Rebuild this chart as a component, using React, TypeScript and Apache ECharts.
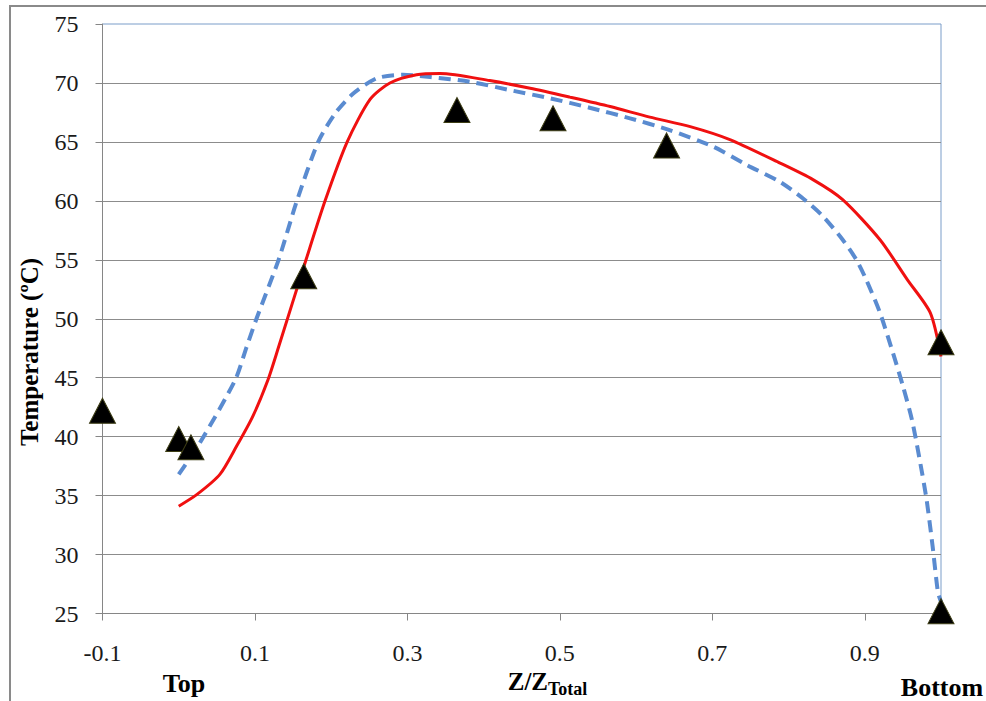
import React, { useEffect, useRef } from "react";
import * as echarts from "echarts";

// Simulation 1 (red solid) : [Z/Ztotal, temperature]
const redX = [0.0, 0.024, 0.054, 0.076, 0.097, 0.117, 0.131, 0.167, 0.192, 0.221, 0.251, 0.277, 0.312, 0.343, 0.408, 0.461, 0.513, 0.566, 0.618, 0.671, 0.723, 0.789, 0.832, 0.871, 0.92, 0.956, 0.986, 1.0];
const redY = [34.1, 35.1, 36.8, 39.2, 41.7, 44.8, 47.6, 55.0, 60.0, 65.0, 68.6, 70.0, 70.7, 70.8, 70.2, 69.55, 68.8, 68.0, 67.1, 66.3, 65.2, 63.2, 61.8, 60.1, 56.7, 53.3, 50.5, 46.8];

// Simulation 2 (blue dashed)
const blueX = [0.0, 0.028, 0.074, 0.089, 0.102, 0.131, 0.155, 0.183, 0.205, 0.229, 0.26, 0.294, 0.33, 0.382, 0.434, 0.487, 0.539, 0.592, 0.644, 0.701, 0.745, 0.789, 0.819, 0.845, 0.871, 0.889, 0.902, 0.92, 0.937, 0.95, 0.962, 0.972, 0.981, 0.989, 0.996, 1.0];
const blueY = [36.8, 39.5, 44.8, 47.6, 50.0, 55.0, 60.0, 65.0, 67.4, 69.1, 70.4, 70.7, 70.5, 70.1, 69.4, 68.7, 67.9, 67.0, 66.0, 64.6, 63.05, 61.6, 60.2, 58.7, 56.7, 55.0, 53.3, 50.5, 47.1, 44.3, 41.4, 38.05, 34.7, 30.7, 26.8, 26.0];

// Measured (black triangles)
const measX = [-0.1, 0.0, 0.016, 0.164, 0.365, 0.491, 0.64, 1.0, 1.0];
const measY = [42.2, 39.8, 39.1, 53.6, 67.7, 67.0, 64.7, 48.0, 25.2];

const xTickLabels = [-0.1, 0.1, 0.3, 0.5, 0.7, 0.9];
const yMin = 25;
const yMax = 75;
const yStep = 5;

const SERIF = "Liberation Serif";

export default function App() {
  const ref = useRef<HTMLDivElement>(null);

  useEffect(() => {
    if (!ref.current) return;
    const chart = echarts.init(ref.current, undefined, { renderer: "svg" });
    const zip = (xs: number[], ys: number[]) => xs.map((x, i) => [x, ys[i]]);

    chart.setOption({
      animation: false,
      backgroundColor: "#ffffff",
      grid: {
        left: 102.5,
        top: 24,
        right: 45,
        bottom: 87.5,
        show: true,
        borderColor: "#7b9dc9",
        borderWidth: 1,
        backgroundColor: "transparent",
      },
      xAxis: {
        type: "value",
        min: -0.1,
        max: 1.0,
        axisLine: { show: true, onZero: false, lineStyle: { color: "#868686", width: 1 } },
        axisTick: {
          show: true,
          inside: false,
          length: 7,
          customValues: xTickLabels,
          lineStyle: { color: "#868686" },
        },
        axisLabel: {
          customValues: xTickLabels,
          margin: 27,
          fontFamily: SERIF,
          fontSize: 24,
          color: "#1a1a1a",
          formatter: (v: number) => String(Number(v.toFixed(1))),
        },
        splitLine: { show: false },
      },
      yAxis: {
        type: "value",
        min: yMin,
        max: yMax,
        interval: yStep,
        axisLine: { show: true, onZero: false, lineStyle: { color: "#868686", width: 1 } },
        axisTick: { show: true, inside: false, length: 7, lineStyle: { color: "#868686" } },
        axisLabel: {
          margin: 24,
          fontFamily: SERIF,
          fontSize: 24,
          color: "#1a1a1a",
        },
        splitLine: { show: true, showMaxLine: false, lineStyle: { color: "#8c8c8c", width: 1 } },
      },
      series: [
        {
          name: "Model A",
          type: "line",
          data: zip(blueX, blueY),
          showSymbol: false,
          smooth: 0.25,
          lineStyle: { color: "#5a8bd0", width: 4, type: [12, 7], cap: "butt", join: "round" },
          z: 2,
        },
        {
          name: "Model B",
          type: "line",
          data: zip(redX, redY),
          showSymbol: false,
          smooth: 0.25,
          lineStyle: { color: "#f01010", width: 3, join: "round" },
          z: 3,
        },
        {
          name: "Measured",
          type: "scatter",
          data: zip(measX, measY),
          symbol: "triangle",
          symbolSize: [26, 25],
          itemStyle: { color: "#000000", borderColor: "#3d3d14", borderWidth: 1, opacity: 1 },
          z: 5,
        },
      ],
      graphic: [
        {
          type: "rect",
          shape: { x: 10, y: 6, width: 1000, height: 720 },
          style: { fill: "none", stroke: "#8a8a8a", lineWidth: 2 },
          silent: true,
        },
        {
          type: "text",
          x: 29,
          y: 352,
          rotation: Math.PI / 2,
          style: {
            text: "Temperature (ºC)",
            fontFamily: SERIF,
            fontWeight: "bold",
            fontSize: 25,
            fill: "#000",
            align: "center",
            verticalAlign: "middle",
          },
        },
        {
          type: "text",
          x: 184,
          y: 683.5,
          style: {
            text: "Top",
            fontFamily: SERIF,
            fontWeight: "bold",
            fontSize: 26,
            fill: "#000",
            align: "center",
            verticalAlign: "middle",
          },
        },
        {
          type: "text",
          x: 942,
          y: 687.5,
          style: {
            text: "Bottom",
            fontFamily: SERIF,
            fontWeight: "bold",
            fontSize: 26,
            fill: "#000",
            align: "center",
            verticalAlign: "middle",
          },
        },
        {
          type: "text",
          x: 548,
          y: 681,
          style: {
            text: "Z/Z",
            fontFamily: SERIF,
            fontWeight: "bold",
            fontSize: 25,
            fill: "#000",
            align: "right",
            verticalAlign: "middle",
          },
        },
        {
          type: "text",
          x: 548,
          y: 689,
          style: {
            text: "Total",
            fontFamily: SERIF,
            fontWeight: "bold",
            fontSize: 18,
            fill: "#000",
            align: "left",
            verticalAlign: "middle",
          },
        },
      ],
    });

    return () => chart.dispose();
  }, []);

  return (
    <div
      ref={ref}
      style={{ position: "fixed", left: 0, top: 0, width: 986, height: 701, background: "#fff" }}
    />
  );
}
